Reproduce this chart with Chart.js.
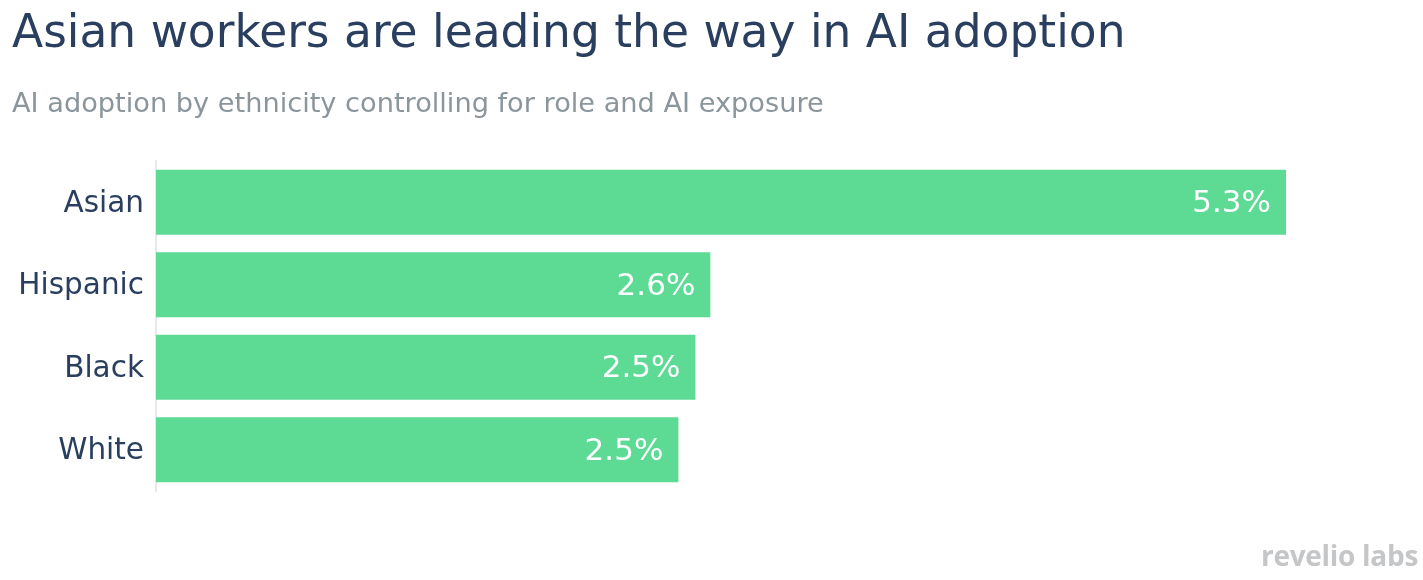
<!DOCTYPE html>
<html>
<head>
<meta charset="utf-8">
<script src="https://cdn.jsdelivr.net/npm/chart.js@4"></script>
<style>
  body { margin: 0; background: #fff; font-family: "DejaVu Sans", sans-serif; }
  #wrap { position: relative; width: 1423px; height: 580px; overflow: hidden; }
  #title { position: absolute; left: 12px; top: 5px; font-size: 45.5px; color: #2a3f5f; white-space: nowrap; }
  #subtitle { position: absolute; left: 12px; top: 87px; font-size: 27.2px; color: #8a959c; white-space: nowrap; }
  #logo { position: absolute; right: 5px; bottom: 6px; font-family: "Open Sans", sans-serif; font-weight: 700; font-size: 28px; color: #c5c6c8; letter-spacing: -0.3px; }
  canvas { position: absolute; left: 0; top: 0; }
</style>
</head>
<body>
<div id="wrap">
  <canvas id="chart" width="1423" height="580"></canvas>
  <div id="title">Asian workers are leading the way in AI adoption</div>
  <div id="subtitle">AI adoption by ethnicity controlling for role and AI exposure</div>
  <div id="logo">revelio labs</div>
</div>
<script>
const groups = ['Asian', 'Hispanic', 'Black', 'White'];
const adoption = [5.3, 2.6, 2.53, 2.45];
const labels = ['5.3%', '2.6%', '2.5%', '2.5%'];

// white value labels inside the bar end
const valueLabels = {
    id: 'valueLabels',
    afterDatasetsDraw(chart) {
        const ctx = chart.ctx;
        const meta = chart.getDatasetMeta(0);
        ctx.save();
        ctx.fillStyle = '#ffffff';
        ctx.font = '31px "DejaVu Sans"';
        ctx.textAlign = 'right';
        ctx.textBaseline = 'middle';
        meta.data.forEach((bar, i) => {
            ctx.fillText(labels[i], bar.x - 15, bar.y + 2);
        });
        ctx.restore();
    }
};

new Chart(document.getElementById('chart'), {
    type: 'bar',
    data: {
        labels: groups,
        datasets: [{
            data: adoption,
            backgroundColor: '#5ddb95',
            borderWidth: 0,
            barPercentage: 0.79,
            categoryPercentage: 1
        }]
    },
    options: {
        indexAxis: 'y',
        responsive: false,
        animation: false,
        layout: { padding: { top: 161, bottom: 89, right: 73, left: 0 } },
        plugins: {
            legend: { display: false },
            tooltip: { enabled: false }
        },
        scales: {
            x: {
                display: false,
                min: 0,
                max: 5.6
            },
            y: {
                afterFit(scale) { scale.width = 156; },
                grid: { display: false, drawTicks: false },
                border: { display: true, color: '#e6e8ec', width: 2 },
                ticks: {
                    color: '#2a3f5f',
                    font: { family: 'DejaVu Sans', size: 29.5 },
                    padding: 12,
                    labelOffset: 2
                }
            }
        }
    },
    plugins: [valueLabels]
});
</script>
</body>
</html>
